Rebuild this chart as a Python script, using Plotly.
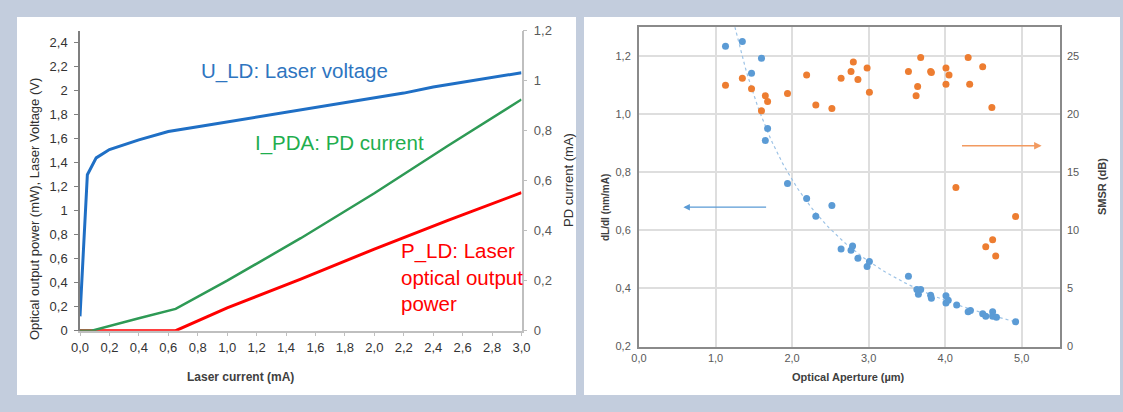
import numpy as np
import plotly.graph_objects as go

# ---------------- Left chart data ----------------
laser_current_u = [0.0, 0.05, 0.11, 0.2, 0.4, 0.6, 0.8, 1.0, 1.2, 1.4, 1.6, 1.8, 2.0, 2.2, 2.4, 2.6, 2.8, 3.0]
u_ld = [0.12, 1.30, 1.44, 1.51, 1.59, 1.66, 1.70, 1.74, 1.78, 1.82, 1.86, 1.90, 1.94, 1.98, 2.03, 2.07, 2.11, 2.15]

laser_current_pd = [0.0, 0.08, 0.4, 0.65, 1.0, 1.5, 2.0, 2.5, 3.0]
i_pda = [0.0, 0.0, 0.05, 0.087, 0.20, 0.37, 0.55, 0.74, 0.925]

laser_current_p = [0.0, 0.65, 1.0, 1.5, 2.0, 2.5, 3.0]
p_ld = [0.0, 0.0, 0.19, 0.43, 0.68, 0.92, 1.15]

# ---------------- Right chart data ----------------
aperture_dldi = [1.13, 1.35, 1.60, 1.47, 1.68, 1.65, 1.94, 2.19, 2.52, 2.31, 2.64, 2.79, 2.77, 2.86,
                 2.98, 3.01, 3.52, 3.63, 3.65, 3.68, 3.81, 3.82, 4.01, 4.01, 4.04, 4.15, 4.30, 4.33,
                 4.49, 4.53, 4.62, 4.62, 4.67, 4.92]
dldi = [1.235, 1.251, 1.193, 1.142, 0.951, 0.910, 0.762, 0.710, 0.686, 0.649, 0.536, 0.546, 0.532, 0.504,
        0.476, 0.493, 0.442, 0.396, 0.380, 0.396, 0.377, 0.366, 0.375, 0.350, 0.359, 0.343, 0.320, 0.324,
        0.313, 0.304, 0.320, 0.304, 0.301, 0.285]

aperture_smsr = [1.13, 1.35, 1.47, 1.60, 1.65, 1.68, 1.94, 2.19, 2.31, 2.52, 2.64, 2.77, 2.80, 2.86,
                 2.98, 3.01, 3.52, 3.62, 3.64, 3.68, 3.81, 3.82, 4.01, 4.01, 4.05, 4.14, 4.30, 4.32,
                 4.49, 4.53, 4.61, 4.62, 4.66, 4.92]
smsr = [22.5, 23.1, 22.2, 20.3, 21.6, 21.1, 21.8, 23.4, 20.8, 20.5, 23.1, 23.7, 24.5, 23.0,
        24.0, 21.9, 23.7, 21.6, 22.4, 24.9, 23.7, 23.6, 22.6, 24.0, 23.4, 13.7, 24.9, 22.6,
        24.1, 8.6, 20.6, 9.2, 7.8, 11.2]

# power-law trendline fitted to the dL/dI data
b, ln_a = np.polyfit(np.log(aperture_dldi), np.log(dldi), 1)
trend_x = np.linspace(1.1, max(aperture_dldi), 120)
trend_y = np.exp(ln_a) * trend_x ** b

W, H = 1123, 412
def px(x):
    return x / W
def py(y):
    return 1 - y / H

FONT = "Liberation Sans, Arial, sans-serif"
BLUE_L = "#1f6fc5"
GREEN_L = "#2e9a55"
RED_L = "#ff0000"
XL_BLUE = "#5b9bd5"
XL_ORANGE = "#ed7d31"

fig = go.Figure()

fig.add_trace(go.Scatter(x=laser_current_u, y=u_ld, mode="lines", line=dict(color=BLUE_L, width=3),
                         xaxis="x", yaxis="y", showlegend=False))
fig.add_trace(go.Scatter(x=laser_current_pd, y=i_pda, mode="lines", line=dict(color=GREEN_L, width=2.5),
                         xaxis="x", yaxis="y2", showlegend=False))
fig.add_trace(go.Scatter(x=laser_current_p, y=p_ld, mode="lines", line=dict(color=RED_L, width=3),
                         xaxis="x", yaxis="y", showlegend=False))

fig.add_trace(go.Scatter(x=trend_x, y=trend_y, mode="lines", line=dict(color="#9dc3e6", width=1.2, dash="dot"),
                         xaxis="x3", yaxis="y3", showlegend=False))
fig.add_trace(go.Scatter(x=aperture_dldi, y=dldi, mode="markers",
                         marker=dict(color=XL_BLUE, size=7), xaxis="x3", yaxis="y3", showlegend=False))
fig.add_trace(go.Scatter(x=aperture_smsr, y=smsr, mode="markers",
                         marker=dict(color=XL_ORANGE, size=7), xaxis="x3", yaxis="y4", showlegend=False))

tick_font_l = dict(family=FONT, size=13, color="#333333")
tick_font_r = dict(family=FONT, size=11, color="#595959")

fig.update_layout(
    template="none",
    width=W, height=H, margin=dict(l=0, r=0, t=0, b=0, pad=0, autoexpand=False),
    paper_bgcolor="#c3cddd", plot_bgcolor="rgba(0,0,0,0)",
    separators=",.",
    font=dict(family=FONT),
    xaxis=dict(domain=[px(80), px(521.5)], anchor="y", range=[0, 3], dtick=0.2, tick0=0,
               tickformat=".1f", showgrid=False, zeroline=False, showline=True, automargin=False,
               linecolor="#bfbfbf", linewidth=1.5, ticks="outside", ticklen=4, tickcolor="#bfbfbf",
               tickfont=tick_font_l),
    yaxis=dict(domain=[py(330.7), py(30.7)], anchor="x", range=[0, 2.5], dtick=0.2, tick0=0,
               showgrid=False, zeroline=False, showline=True, linecolor="#7f7f7f", linewidth=1.5,
               ticks="outside", ticklen=4, tickcolor="#7f7f7f", tickfont=tick_font_l,
               ticklabelstandoff=4, automargin=False),
    yaxis2=dict(overlaying="y", side="right", anchor="x", range=[0, 1.2], dtick=0.2, tick0=0,
                showgrid=False, zeroline=False, showline=True, linecolor="#bfbfbf", linewidth=1.5,
                ticks="outside", ticklen=4, tickcolor="#bfbfbf", automargin=False,
                tickfont=dict(family=FONT, size=13, color="#595959"), ticklabelstandoff=4),
    xaxis3=dict(domain=[px(639), px(1060)], anchor="y3", range=[0, 5.5], dtick=1, tick0=0,
                tickformat=".1f", showgrid=True, gridcolor="#dedede", gridwidth=1.5, zeroline=False,
                showline=True, mirror=True, linecolor="#8a8a8a", linewidth=2, ticks="",
                tickfont=tick_font_r, automargin=False),
    yaxis3=dict(domain=[py(346.5), py(27.3)], anchor="x3", range=[0.2, 1.3], dtick=0.2, tick0=0,
                tickformat=".1f", showgrid=True, gridcolor="#dedede", gridwidth=1.5, zeroline=False,
                showline=True, mirror=True, linecolor="#8a8a8a", linewidth=2, ticks="",
                tickfont=tick_font_r, ticklabelstandoff=4, automargin=False),
    yaxis4=dict(overlaying="y3", side="right", anchor="x3", range=[0, 27.5], dtick=5, tick0=0,
                showgrid=False, zeroline=False, showline=False, ticks="", automargin=False,
                tickfont=tick_font_r, ticklabelstandoff=6),
)

# white panels
fig.add_shape(type="rect", xref="paper", yref="paper", x0=px(17), x1=px(576), y0=py(395), y1=py(17),
              fillcolor="white", line=dict(width=0), layer="below")
fig.add_shape(type="rect", xref="paper", yref="paper", x0=px(584), x1=px(1120), y0=py(395), y1=py(17),
              fillcolor="white", line=dict(width=0), layer="below")

def ann(text, x, y, size, color, bold=False, angle=0, xanchor="center", yanchor="middle", align="center"):
    if bold:
        text = "<b>" + text + "</b>"
    fig.add_annotation(text=text, xref="paper", yref="paper", x=px(x), y=py(y), showarrow=False,
                       font=dict(family=FONT, size=size, color=color), textangle=angle,
                       xanchor=xanchor, yanchor=yanchor, align=align)

# left chart texts
ann("U_LD: Laser voltage", 199, 71, 20.5, "#2e75c0", xanchor="left")
ann("I_PDA: PD current", 253, 143, 20.5, "#1fae4e", xanchor="left")
ann("P_LD: Laser<br>optical output<br>power", 399, 277, 20.5, RED_L, xanchor="left", align="left")
ann("Optical output power (mW), Laser Voltage (V)", 34, 209, 13, "#303030", angle=-90)
ann("PD current (mA)", 568, 180, 13, "#303030", angle=-90)
ann("Laser current (mA)", 240, 377, 12, "#404040", bold=True)

# right chart texts
ann("dL/dI (nm/mA)", 605, 208, 10, "#404040", bold=True, angle=-90)
ann("SMSR (dB)", 1102, 187, 11, "#404040", bold=True, angle=-90)
ann("Optical Aperture (µm)", 848, 377, 11, "#404040", bold=True)

# direction arrows
blue_arrow = dict(tail=1.68, head=0.58, level=0.68)
orange_arrow = dict(tail=4.20, head=5.26, level=17.3)
fig.add_annotation(x=blue_arrow["head"], y=blue_arrow["level"], ax=blue_arrow["tail"], ay=blue_arrow["level"],
                   xref="x3", yref="y3", axref="x3", ayref="y3", text="", showarrow=True,
                   arrowhead=2, arrowsize=1, arrowwidth=1.3, arrowcolor=XL_BLUE)
fig.add_annotation(x=orange_arrow["head"], y=orange_arrow["level"], ax=orange_arrow["tail"], ay=orange_arrow["level"],
                   xref="x3", yref="y4", axref="x3", ayref="y4", text="", showarrow=True,
                   arrowhead=2, arrowsize=1, arrowwidth=1.5, arrowcolor="#f29a60")

fig.write_html("out.html", config={"displayModeBar": False},
               post_script="document.body.style.margin='0';document.body.style.overflow='hidden';")
